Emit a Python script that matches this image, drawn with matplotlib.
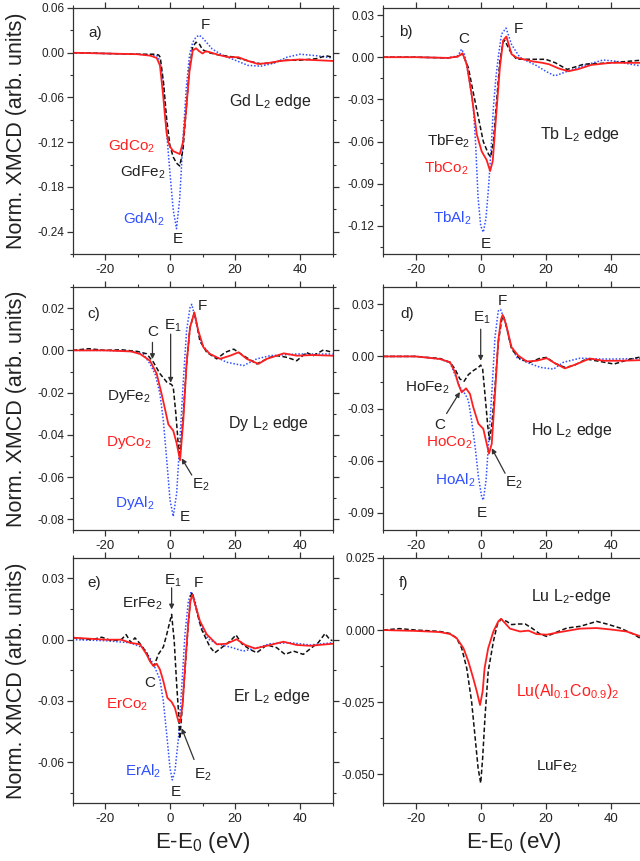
import matplotlib
matplotlib.use("Agg")
import matplotlib.pyplot as plt
from matplotlib.ticker import MultipleLocator, FormatStrFormatter

plt.rcParams['font.family'] = ['Liberation Sans', 'DejaVu Sans']
plt.rcParams['axes.unicode_minus'] = False
plt.rcParams['mathtext.fontset'] = 'custom'
plt.rcParams['mathtext.rm'] = 'Liberation Sans'
plt.rcParams['mathtext.it'] = 'Liberation Sans:italic'

RED = "#ff1f1f"
BLUE = "#2f4fff"
BLACK = "#111111"
TXT = "#222222"

# ---- Gd L2 edge (panel a) ----
gd_al_e = [-30, -20, -10, -4, -3, -2, -1, 0, 1, 2, 3, 4, 5, 6, 7, 8, 9, 10, 11, 13, 16, 20, 24, 28, 32, 36, 40, 45, 50]
gd_al = [0, -0.001, -0.002, -0.004, -0.012, -0.042, -0.109, -0.162, -0.211, -0.236, -0.195, -0.115, -0.048, -0.003,
         0.014, 0.021, 0.0235, 0.02, 0.015, 0.005, -0.003, -0.01, -0.017, -0.018, -0.014, -0.006, -0.002, -0.004, -0.007]
gd_fe_e = [-30, -20, -10, -5, -3.5, -3, -2, -1, 0, 1, 2, 3, 4, 5, 6, 7, 8, 9, 10, 12, 15, 20, 25, 28, 32, 35, 40, 45, 48, 50]
gd_fe = [0, -0.001, -0.002, -0.002, -0.003, -0.006, -0.04, -0.09, -0.125, -0.14, -0.148, -0.152, -0.13, -0.075, -0.02,
         0.008, 0.014, 0.012, 0.004, 0.0, -0.003, -0.006, -0.012, -0.015, -0.013, -0.01, -0.01, -0.008, -0.004, -0.006]
gd_co_e = [-30, -20, -10, -6, -4.1, -3.1, -2.6, -2.05, -1.5, -1.0, -0.5, 0, 1, 2, 3, 4, 5, 6, 7, 8, 9, 10, 11, 12,
           15, 18, 21, 24, 27, 30, 34, 40, 45, 50]
gd_co = [0, -0.001, -0.002, -0.004, -0.007, -0.017, -0.037, -0.06, -0.087, -0.109, -0.12, -0.126, -0.132, -0.134,
         -0.136, -0.12, -0.075, -0.025, 0.003, 0.006, 0.002, -0.001, 0.002, 0.001, -0.003, -0.006, -0.006, -0.011,
         -0.015, -0.014, -0.011, -0.009, -0.010, -0.011]

# ---- Tb L2 edge (panel b) ----
tb_al_e = [-30, -20, -10, -7, -5.9, -5, -3.8, -2.3, -1.6, -0.8, 0, 0.8, 1.6, 2.4, 3.2, 3.9, 4.7, 5.4, 6.4, 7.8, 9.5,
           12, 14.5, 17.2, 20, 22.8, 25.5, 28.5, 33, 37.7, 42, 46, 50]
tb_al = [0, 0, -0.0005, 0.001, 0.0057, 0.002, -0.012, -0.035, -0.06, -0.1, -0.12, -0.1245, -0.115, -0.093, -0.065,
         -0.036, -0.014, 0.0, 0.0164, 0.0207, 0.009, 0.0, -0.003, -0.006, -0.010, -0.0133, -0.011, -0.0086, -0.005,
         -0.002, -0.003, -0.005, -0.0064]
tb_fe_e = [-30, -20, -10, -7, -5.6, -3.8, -2.3, -0.7, 0.8, 2.4, 3.1, 3.9, 4.9, 5.9, 6.9, 7.4, 9, 11, 16, 20, 23, 26.6,
           31.7, 40, 45, 50]
tb_fe = [0, 0, -0.0005, 0.0005, 0.0025, -0.0074, -0.025, -0.043, -0.06, -0.069, -0.071, -0.06, -0.031, -0.0026,
         0.0107, 0.012, 0.0045, -0.0014, -0.0015, -0.0015, -0.004, -0.0087, -0.005, -0.004, -0.003, -0.002]
tb_co_e = [-30, -20, -10, -7, -5.6, -4.3, -2.8, -1.2, 0.3, 1.8, 2.9, 3.7, 4.7, 5.9, 6.9, 7.9, 9.5, 11, 13, 16, 19, 21,
           24, 27, 30, 34, 40, 45, 50]
tb_co = [0, 0, -0.0005, 0.0005, 0.0028, -0.005, -0.0264, -0.055, -0.067, -0.073, -0.081, -0.074, -0.0431, -0.0074,
         0.0119, 0.0147, 0.0021, -0.0003, -0.0014, -0.003, -0.004, -0.005, -0.008, -0.01, -0.0085, -0.0055, -0.004,
         -0.004, -0.004]

# ---- Dy L2 edge (panel c) ----
dy_al_e = [-30, -20, -12, -8.2, -6.15, -4.6, -3.1, -2.05, -1.0, 0, 1.0, 2.05, 3.1, 4.1, 5.1, 6.15, 6.7, 8.2, 9.7,
           12.3, 17.4, 22.6, 26.7, 30.8, 39, 50]
dy_al = [0, 0, -0.0005, -0.0017, -0.0064, -0.011, -0.0205, -0.0331, -0.052, -0.0707, -0.0786, -0.0676, -0.0409,
         -0.0143, 0.0093, 0.0202, 0.0218, 0.0124, 0.003, -0.0017, -0.0056, -0.0072, -0.004, -0.0025, -0.0017, -0.0017]
dy_fe_e = [-30, -25, -20, -15, -10, -7.2, -5.1, -3.1, -1.0, 0.5, 1.0, 1.8, 2.6, 3.1, 4.1, 5.1, 6.15, 7.5, 9.2, 11.3,
           14.4, 17, 19.6, 22.6, 26.7, 30.8, 33, 36, 39, 42, 44.1, 47.2, 49, 50]
dy_fe = [0, 0.0008, 0, 0.0003, -0.0005, -0.0016, -0.0056, -0.011, -0.015, -0.0162, -0.0174, -0.0299, -0.0456,
         -0.049, -0.030, -0.0064, 0.0108, 0.018, 0.0045, -0.0009, -0.004, -0.0009, 0.0006, -0.0025, -0.0064, -0.0033,
         -0.0025, -0.0033, -0.0049, -0.001, -0.0025, 0.0002, -0.0005, -0.001]
dy_co_e = [-30, -20, -12, -9.2, -6.15, -4.1, -2.6, -1.5, -0.5, 1.0, 2.05, 3.1, 4.1, 5.1, 6.15, 7.5, 8.7, 10.3, 12.3,
           15.4, 18.5, 21.1, 23.6, 27.2, 29.8, 35, 39, 44, 50]
dy_co = [0, 0, -0.0005, -0.0017, -0.0049, -0.011, -0.0205, -0.028, -0.035, -0.038, -0.044, -0.052, -0.033, -0.0064,
         0.0108, 0.0179, 0.0093, 0.0014, -0.0017, -0.004, -0.0025, -0.0009, -0.004, -0.0064, -0.004, -0.0014,
         -0.0025, -0.0022, -0.0025]

# ---- Ho L2 edge (panel d) ----
ho_al_e = [-30, -20, -12.5, -9.4, -7.9, -6.4, -4.8, -3.8, -2.8, -1.7, -0.7, 0.3, 0.8, 1.65, 2.4, 3.4, 4.4, 5.4, 6.1,
           7.5, 9.0, 11.1, 14.2, 18.3, 22.4, 25.4, 30.6, 36.7, 41, 50]
ho_al = [0, 0, -0.0015, -0.0038, -0.0105, -0.0177, -0.0216, -0.0254, -0.0369, -0.0522, -0.0694, -0.0809, -0.0828,
         -0.0713, -0.0503, -0.0216, 0.011, 0.0262, 0.0271, 0.0204, 0.008, -0.0006, -0.0034, -0.0063, -0.0073,
         -0.0034, -0.001, -0.0015, -0.0015, -0.0012]
ho_fe_e = [-30, -20, -12.5, -9.4, -7.9, -6.4, -5.1, -3.8, -2.3, -0.7, 0.0, 0.6, 1.3, 2.2, 2.7, 3.4, 4.4, 5.4, 6.5,
           7.0, 8.0, 9.5, 12.1, 15.2, 18.3, 20.3, 22.9, 25.9, 28.5, 32.5, 36.7, 41, 46.1, 50]
ho_fe = [0, 0, -0.0012, -0.0034, -0.0073, -0.013, -0.0143, -0.0105, -0.0082, -0.0063, -0.005, -0.0073, -0.0216,
         -0.0407, -0.048, -0.04, -0.0177, 0.008, 0.0214, 0.0233, 0.0166, 0.0042, -0.0015, -0.0034, -0.001, -0.0006,
         -0.004, -0.0063, -0.0054, -0.0015, -0.0029, -0.0044, -0.0015, 0.0]
ho_co_e = [-30, -20, -12.5, -9.4, -7.9, -6.9, -5.85, -4.5, -3.3, -2.3, -0.7, 0.8, 1.85, 2.55, 3.4, 4.4, 5.4, 6.25,
           6.75, 7.8, 9.5, 11.6, 14.2, 17.2, 20.3, 22.9, 25.9, 29.5, 33.6, 37.7, 42.9, 50]
ho_co = [0, 0, -0.0015, -0.0034, -0.0092, -0.0159, -0.0207, -0.0184, -0.0216, -0.0292, -0.0388, -0.0417, -0.0503,
         -0.056, -0.0503, -0.0216, 0.009, 0.0214, 0.0239, 0.0185, 0.0052, 0.0004, -0.0029, -0.0025, -0.001, -0.004,
         -0.0069, -0.0044, -0.0012, -0.0025, -0.0025, -0.0021]

# ---- Er L2 edge (panel e) ----
er_al_e = [-30, -20, -12.3, -8.2, -6.2, -4.6, -3.1, -2.05, -1.0, 0.0, 0.7, 1.5, 2.6, 3.6, 4.6, 5.6, 6.5, 7.7, 9.2,
           11.8, 15, 18.5, 22.6, 26.7, 30.8, 37, 43.1, 50]
er_al = [0.0, -0.0005, -0.0015, -0.004, -0.0089, -0.0138, -0.0195, -0.0302, -0.0466, -0.0629, -0.0687, -0.0646,
         -0.0482, -0.0236, 0.0026, 0.0182, 0.0236, 0.019, 0.0075, 0.0002, -0.0023, -0.0036, -0.0056, -0.004, -0.002,
         -0.0015, -0.0026, -0.0015]
er_fe_e = [-30, -27, -24, -21, -18, -15, -13.5, -12, -10.8, -9.2, -7.2, -5.6, -4.9, -3.6, -2.05, -1.0, 0.5, 1.3,
           2.05, 2.6, 3.0, 3.6, 4.6, 5.6, 6.4, 6.9, 8.2, 9.7, 12.3, 13.8, 15.9, 18.5, 20.3, 22.1, 24.6, 26.7, 29.8,
           32.8, 35.4, 38, 41, 43.6, 45.6, 47.7, 49.2, 50]
er_fe = [0.001, 0.0005, 0.0, 0.0012, -0.0005, 0.0, 0.0025, -0.0015, 0.0009, -0.002, -0.0064, -0.0121, -0.0129,
         -0.0072, -0.0036, 0.0026, 0.0124, -0.0007, -0.0219, -0.0349, -0.0485, -0.0367, -0.0154, 0.0075, 0.0215,
         0.0231, 0.0141, 0.0051, -0.0036, -0.0064, -0.0039, -0.0007, 0.0023, -0.002, -0.0048, -0.0064, -0.0026,
         -0.0039, -0.0072, -0.0056, -0.0072, -0.0039, -0.0015, 0.003, 0.0, -0.0005]
er_co_e = [-30, -25, -20, -15, -12.3, -9.2, -7.2, -6.2, -5.1, -4.1, -3.1, -2.05, -0.8, 0.5, 1.5, 2.6, 3.1, 3.9, 4.6,
           5.6, 6.3, 6.9, 7.7, 9.2, 11.3, 14.4, 17.4, 20.5, 23.1, 26.2, 30.8, 34.9, 39, 43.1, 50]
er_co = [0.001, 0.0005, 0.0, 0.0, -0.0015, -0.0023, -0.0072, -0.0105, -0.0129, -0.0118, -0.0146, -0.0203, -0.0285,
         -0.0305, -0.0334, -0.04, -0.0404, -0.0318, -0.0138, 0.0075, 0.019, 0.022, 0.0174, 0.0092, 0.0026, -0.0023,
         -0.002, 0.0002, -0.0026, -0.0043, -0.0026, -0.001, -0.0026, -0.003, -0.002]

# ---- Lu L2 edge (panel f) ----
lu_fe_e = [-30, -25, -20, -15, -12.5, -9.4, -7.4, -5.85, -4.3, -2.8, -1.8, -0.8, 0.0, 0.6, 1.3, 2.3, 3.9, 5.1, 6.25,
           8.0, 9.5, 11.6, 13.7, 15.7, 18.3, 20.3, 23.4, 26.5, 30.6, 35.7, 38.8, 42.9, 47, 50]
lu_fe = [0, 0.0005, 0.0, -0.0003, -0.0005, -0.0012, -0.0028, -0.0063, -0.0132, -0.0248, -0.0363, -0.0479, -0.0531,
         -0.0444, -0.0306, -0.0144, -0.004, 0.0019, 0.0038, 0.003, 0.0019, 0.0021, 0.0021, 0.0007, -0.0014, -0.0022,
         -0.0007, 0.0007, 0.0013, 0.003, 0.0021, 0.0007, -0.0014, -0.0035]
lu_co_e = [-30, -20, -12.5, -9.4, -7.4, -5.3, -3.8, -2.3, -1.2, -0.2, 0.6, 1.2, 2.3, 3.9, 5.4, 6.25, 7.5, 9.0, 12.1,
           14.7, 17.2, 20.3, 24.4, 30.6, 35.7, 40.8, 44.9, 50]
lu_co = [0, -0.0003, -0.0007, -0.0014, -0.0028, -0.0063, -0.0109, -0.0167, -0.0213, -0.026, -0.0213, -0.0132,
         -0.0063, -0.0005, 0.003, 0.0039, 0.0024, 0.0005, -0.0005, -0.0002, -0.0014, -0.0016, -0.0007, 0.0005,
         0.0007, 0.0001, -0.0005, -0.0025]

W, H = 640, 861
col_x = [72.5, 383.2]
row_y = [(8, 254), (287, 530), (558, 803)]
AXW = 260


def make_axes(col, row):
    top, bot = row_y[row]
    ax = fig.add_axes([col_x[col] / W, 1 - bot / H, AXW / W, (bot - top) / H])
    return ax


def style(ax, ylim, ystep, fmt):
    ax.set_xlim(-30, 50)
    ax.set_ylim(*ylim)
    ax.xaxis.set_major_locator(MultipleLocator(20))
    ax.xaxis.set_minor_locator(MultipleLocator(10))
    ax.yaxis.set_major_locator(MultipleLocator(ystep))
    ax.yaxis.set_minor_locator(MultipleLocator(ystep / 2))
    ax.yaxis.set_major_formatter(FormatStrFormatter(fmt))
    ax.tick_params(which='both', direction='out', top=True, right=True, colors='#333333')
    ax.tick_params(which='major', length=4, width=0.9)
    ax.tick_params(which='minor', length=2.5, width=0.8)
    ax.tick_params(axis='x', labelsize=9.5, pad=3, labelcolor=TXT)
    ax.tick_params(axis='y', labelsize=8.5, pad=2, labelcolor=TXT)
    for s in ax.spines.values():
        s.set_linewidth(0.9)
        s.set_color('#333333')


def curves(ax, al, fe, co):
    if al is not None:
        ax.plot(al[0], al[1], ls=(0, (1, 1.2)), color=BLUE, lw=1.1)
    ax.plot(fe[0], fe[1], ls=(0, (3, 1.6)), color=BLACK, lw=1.1)
    ax.plot(co[0], co[1], ls='-', color=RED, lw=1.3)


def txt(ax, x, y, s, color=TXT, size=11, ha='center'):
    ax.text(x, y, s, color=color, fontsize=size, ha=ha, va='center')


def arrow(ax, tail, head):
    ax.annotate("", xy=head, xytext=tail,
                arrowprops=dict(arrowstyle='-|>', color='#333333', lw=0.9, mutation_scale=7,
                                shrinkA=0, shrinkB=0))


fig = plt.figure(figsize=(W / 100, H / 100), dpi=100)

# a) Gd
ax = make_axes(0, 0)
style(ax, (-0.27, 0.06), 0.06, '%.2f')
curves(ax, (gd_al_e, gd_al), (gd_fe_e, gd_fe), (gd_co_e, gd_co))
txt(ax, -23, 0.027, "a)")
txt(ax, 31, -0.065, r"Gd L$\mathregular{_2}$ edge", size=11.5)
txt(ax, -11.7, -0.125, r"GdCo$\mathregular{_2}$", RED)
txt(ax, -8.3, -0.16, r"GdFe$\mathregular{_2}$")
txt(ax, -8, -0.223, r"GdAl$\mathregular{_2}$", BLUE)
txt(ax, 2.5, -0.25, "E")
txt(ax, 10.8, 0.037, "F")

# b) Tb
ax = make_axes(1, 0)
style(ax, (-0.14, 0.035), 0.03, '%.2f')
curves(ax, (tb_al_e, tb_al), (tb_fe_e, tb_fe), (tb_co_e, tb_co))
txt(ax, -23, 0.0176, "b)")
txt(ax, 30.6, -0.0553, r"Tb L$\mathregular{_2}$ edge", size=11.5)
txt(ax, -10, -0.060, r"TbFe$\mathregular{_2}$")
txt(ax, -10.7, -0.079, r"TbCo$\mathregular{_2}$", RED)
txt(ax, -8.8, -0.1146, r"TbAl$\mathregular{_2}$", BLUE)
txt(ax, 1.5, -0.133, "E")
txt(ax, 11.5, 0.0198, "F")
txt(ax, -5.1, 0.0126, "C")

# c) Dy
ax = make_axes(0, 1)
style(ax, (-0.085, 0.03), 0.02, '%.2f')
curves(ax, (dy_al_e, dy_al), (dy_fe_e, dy_fe), (dy_co_e, dy_co))
txt(ax, -23.4, 0.0174, "c)")
txt(ax, 30.2, -0.0344, r"Dy L$\mathregular{_2}$ edge", size=11.5)
txt(ax, -12.6, -0.022, r"DyFe$\mathregular{_2}$")
txt(ax, -12.6, -0.0438, r"DyCo$\mathregular{_2}$", RED)
txt(ax, -10.8, -0.072, r"DyAl$\mathregular{_2}$", BLUE)
txt(ax, 4.6, -0.079, "E")
txt(ax, 10.0, 0.021, "F")
txt(ax, -5.4, 0.0088, "C")
txt(ax, 0.8, 0.0118, r"E$\mathregular{_1}$")
txt(ax, 9.4, -0.0637, r"E$\mathregular{_2}$")
arrow(ax, (-5.4, 0.0038), (-5.4, -0.0041))
arrow(ax, (0.2, 0.0077), (0.2, -0.0153))
arrow(ax, (6.7, -0.059), (3.6, -0.0511))

# d) Ho
ax = make_axes(1, 1)
style(ax, (-0.1, 0.04), 0.03, '%.2f')
curves(ax, (ho_al_e, ho_al), (ho_fe_e, ho_fe), (ho_co_e, ho_co))
txt(ax, -22.7, 0.0246, "d)")
txt(ax, 28, -0.0424, r"Ho L$\mathregular{_2}$ edge", size=11.5)
txt(ax, -16.5, -0.0183, r"HoFe$\mathregular{_2}$")
txt(ax, -9.8, -0.05, r"HoCo$\mathregular{_2}$", RED)
txt(ax, -7.7, -0.0711, r"HoAl$\mathregular{_2}$", BLUE)
txt(ax, 0.3, -0.09, "E")
txt(ax, 6.8, 0.032, "F")
txt(ax, -12.5, -0.0396, "C")
txt(ax, 0.5, 0.0224, r"E$\mathregular{_1}$")
txt(ax, 10.3, -0.0728, r"E$\mathregular{_2}$")
arrow(ax, (0.0, 0.0157), (0.0, -0.0025))
arrow(ax, (-10.5, -0.0329), (-6.4, -0.0205))
arrow(ax, (7.5, -0.0673), (3.4, -0.0529))

# e) Er
ax = make_axes(0, 2)
style(ax, (-0.08, 0.04), 0.03, '%.2f')
curves(ax, (er_al_e, er_al), (er_fe_e, er_fe), (er_co_e, er_co))
txt(ax, -23.4, 0.028, "e)")
txt(ax, 31.4, -0.0279, r"Er L$\mathregular{_2}$ edge", size=11.5)
txt(ax, -8.5, 0.0177, r"ErFe$\mathregular{_2}$")
txt(ax, -13.3, -0.032, r"ErCo$\mathregular{_2}$", RED)
txt(ax, -8.2, -0.0643, r"ErAl$\mathregular{_2}$", BLUE)
txt(ax, 1.8, -0.0746, "E")
txt(ax, 8.7, 0.0279, "F")
txt(ax, -6.2, -0.0212, "C")
txt(ax, 0.8, 0.0287, r"E$\mathregular{_1}$")
txt(ax, 10.0, -0.0664, r"E$\mathregular{_2}$")
arrow(ax, (0.5, 0.0254), (0.5, 0.0148))
arrow(ax, (7.4, -0.0587), (3.6, -0.0434))

# f) Lu
ax = make_axes(1, 2)
style(ax, (-0.06, 0.025), 0.025, '%.3f')
curves(ax, None, (lu_fe_e, lu_fe), (lu_co_e, lu_co))
txt(ax, -23.9, 0.0163, "f)")
txt(ax, 27.7, 0.0116, r"Lu L$\mathregular{_2}$-edge", size=11.5)
txt(ax, 26.9, -0.0214, r"Lu(Al$\mathregular{_{0.1}}$Co$\mathregular{_{0.9}}$)$\mathregular{_2}$", RED, size=11.5)
txt(ax, 23.4, -0.0475, r"LuFe$\mathregular{_2}$")

# axis titles
for row in range(3):
    top, bot = row_y[row]
    fig.text(17 / W, 1 - (top + bot) / 2 / H, "Norm. XMCD (arb. units)", rotation=90,
             ha='center', va='center', fontsize=15.5, color=TXT)
for col in range(2):
    fig.text((col_x[col] + AXW / 2) / W, 1 - 848 / H, r"E-E$\mathregular{_0}$ (eV)",
             ha='center', va='baseline', fontsize=16, color=TXT)

fig.savefig("out.png", dpi=100)
